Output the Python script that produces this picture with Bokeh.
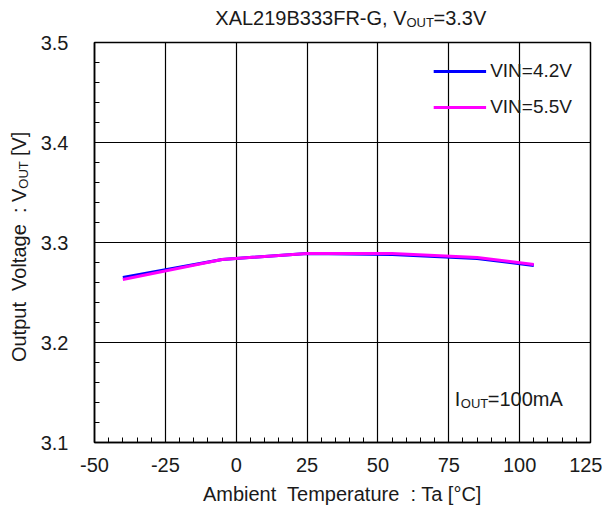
import math
from bokeh.plotting import figure
from bokeh.layouts import column, row
from bokeh.models import Range1d, FixedTicker, Label, Legend, LegendItem, PrintfTickFormatter
from bokeh.embed import file_html
from bokeh.resources import INLINE

# ---- data ----
temps = [-40, -5, 25, 55, 85, 105]
vout_vin42 = [3.265, 3.283, 3.289, 3.288, 3.284, 3.277]
vout_vin55 = [3.263, 3.283, 3.289, 3.289, 3.285, 3.278]
series_names = ["VIN=4.2V", "VIN=5.5V"]
series_colors = ["#0000FF", "#FF00FF"]
x_ticks = [-50, -25, 0, 25, 50, 75, 100, 125]
y_ticks = [3.1, 3.2, 3.3, 3.4, 3.5]
x_minor = list(range(-50, 126, 5))
y_minor = [round(3.1 + 0.02 * i, 2) for i in range(21)]

FONT = "Liberation Sans"
TXT = "#1a1a1a"
NB = "\u00a0"

W_TOTAL, H_TOTAL = 602, 509
TITLE_H = 30
YLAB_W = 34
MAIN_W = W_TOTAL - YLAB_W
MAIN_H = H_TOTAL - TITLE_H


def helper(w, h):
    f = figure(width=w, height=h, output_backend="svg", toolbar_location=None,
               x_range=Range1d(0, w), y_range=Range1d(0, h),
               x_axis_type=None, y_axis_type=None, min_border=0)
    f.outline_line_color = None
    f.background_fill_color = "white"
    f.border_fill_color = "white"
    f.grid.visible = False
    return f


def lab(fig, x, y, text, size, align="left", angle=0.0, xo=0, yo=0):
    fig.add_layout(Label(x=x, y=y, x_offset=xo, y_offset=yo, text=text, text_align=align,
                         text_baseline="middle", text_font=FONT, text_font_size=size,
                         text_color=TXT, angle=angle))


# ---- main plot ----
p = figure(width=MAIN_W, height=MAIN_H, output_backend="svg", toolbar_location=None,
           x_range=Range1d(-50, 125), y_range=Range1d(3.1, 3.5),
           min_border_left=60, min_border_right=12, min_border_top=12, min_border_bottom=67)
p.background_fill_color = "white"
p.border_fill_color = "white"
p.outline_line_color = "black"
p.outline_line_width = 1.5

r1 = p.line(temps, vout_vin42, line_color=series_colors[0], line_width=3)
r2 = p.line(temps, vout_vin55, line_color=series_colors[1], line_width=3)

p.xaxis.ticker = FixedTicker(ticks=x_ticks, minor_ticks=x_minor)
p.yaxis.ticker = FixedTicker(ticks=y_ticks, minor_ticks=y_minor)
p.xaxis.formatter = PrintfTickFormatter(format="%d")
p.yaxis.formatter = PrintfTickFormatter(format="%.1f")
for ax in (p.xaxis, p.yaxis):
    ax.axis_line_color = "black"
    ax.axis_line_width = 1.5
    ax.major_tick_in = 0
    ax.major_tick_out = 0
    ax.minor_tick_in = 5
    ax.minor_tick_out = 0
    ax.minor_tick_line_color = "black"
    ax.minor_tick_line_width = 1
    ax.major_label_text_font = FONT
    ax.major_label_text_font_size = "20px"
    ax.major_label_text_color = TXT
    ax.axis_label_text_font = FONT
    ax.axis_label_text_font_size = "20px"
    ax.axis_label_text_font_style = "normal"
    ax.axis_label_text_color = TXT
p.yaxis.major_label_standoff = 26
p.xaxis.major_label_standoff = 15
p.xaxis.axis_label = "Ambient" + NB + " Temperature" + NB + " : Ta [°C]"
p.xaxis.axis_label_standoff = 8

p.grid.grid_line_color = "black"
p.grid.grid_line_width = 1.2
p.grid.grid_line_alpha = 1.0

legend = Legend(items=[LegendItem(label=series_names[0], renderers=[r1]),
                       LegendItem(label=series_names[1], renderers=[r2])],
                location="top_right", border_line_color=None, background_fill_alpha=0,
                glyph_width=53, glyph_height=20, label_height=20, spacing=14,
                label_standoff=4, padding=10, margin=18,
                label_text_font=FONT, label_text_font_size="19px", label_text_color=TXT)
p.add_layout(legend)

# I_OUT annotation inside the frame
lab(p, 75, 3.1, "I", "20px", "left", xo=6, yo=44)
lab(p, 75, 3.1, "OUT", "13px", "left", xo=12, yo=39)
lab(p, 75, 3.1, "=100mA", "20px", "left", xo=39, yo=44)

# ---- title strip ----
t = helper(W_TOTAL, TITLE_H)
lab(t, 406, TITLE_H - 17, "XAL219B333FR-G, V", "20px", "right")
lab(t, 406, TITLE_H - 22, "OUT", "13px", "left")
lab(t, 433, TITLE_H - 17, "=3.3V", "20px", "left")

# ---- y-axis label strip (rotated) ----
yl = helper(YLAB_W, MAIN_H)
a = math.pi / 2
lab(yl, 18, H_TOTAL - 205, "Output" + NB + " Voltage" + NB + " : V", "20px", "right", a)
lab(yl, 23, H_TOTAL - 205, "OUT", "13px", "left", a)
lab(yl, 18, H_TOTAL - 166, "[V]", "20px", "left", a)

layout = column(t, row(yl, p, spacing=0), spacing=0)

open("out.html", "w").write(file_html(layout, INLINE))
